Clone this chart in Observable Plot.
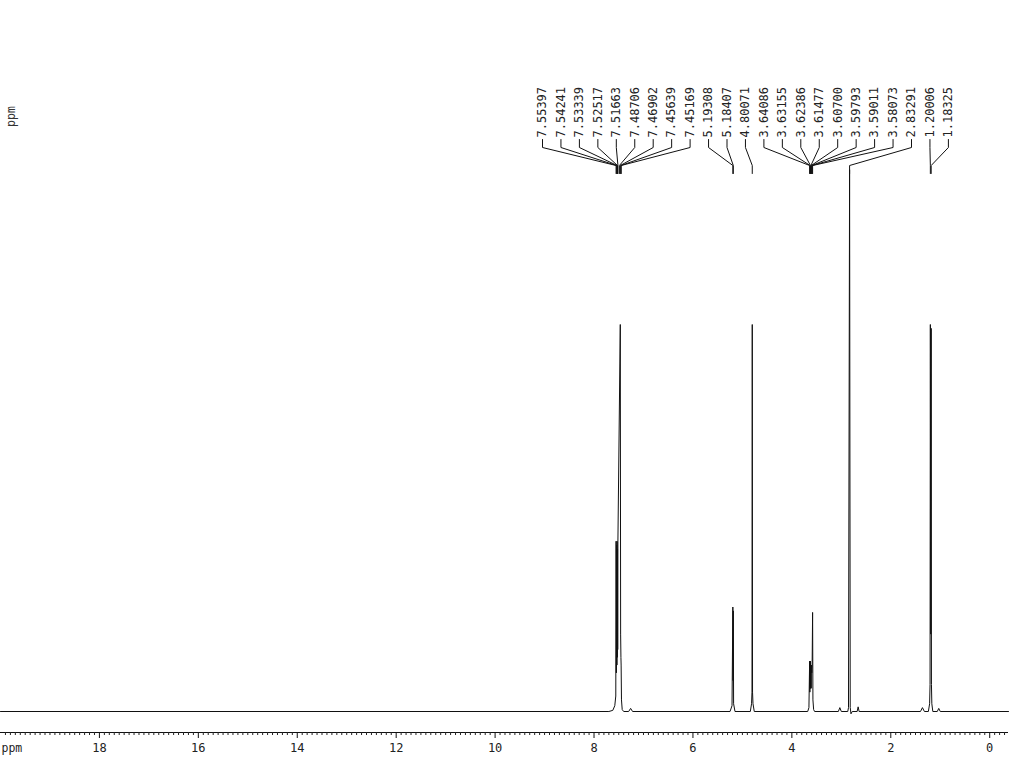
<!DOCTYPE html>
<html>
<head>
<meta charset="utf-8">
<script src="https://cdn.jsdelivr.net/npm/d3@7"></script>
<script src="https://cdn.jsdelivr.net/npm/@observablehq/plot@0.6"></script>
<style>
  html, body { margin: 0; padding: 0; background: #fff; overflow: hidden; }
  #chart svg { display: block; }
</style>
</head>
<body>
<div id="chart"></div>
<script>
// ---- data ----
// peak-pick labels (ppm), in label order left to right
const peakLabels = [7.55397, 7.54241, 7.53339, 7.52517, 7.51663, 7.48706, 7.46902, 7.45639, 7.45169,
  5.19308, 5.18407, 4.80071,
  3.64086, 3.63155, 3.62386, 3.61477, 3.60700, 3.59793, 3.59011, 3.58073,
  2.83291, 1.20006, 1.18325];

// spectrum trace: [ppm, relative intensity] (HDO peak at 4.80 = 100)
const spectrumPoints = [
  [20.0, 0], [7.70, 0], [7.62, 0.3], [7.58, 1.5], [7.56, 4],
  [7.554, 44], [7.548, 10], [7.542, 43], [7.537, 12], [7.533, 44], [7.529, 14],
  [7.525, 42], [7.521, 16], [7.517, 44], [7.469, 100], [7.462, 20], [7.456, 14],
  [7.452, 12], [7.445, 3], [7.43, 0.5], [7.40, 0], [7.30, 0], [7.26, 0.8], [7.22, 0],
  [5.25, 0], [5.21, 1.5], [5.193, 27], [5.189, 8], [5.184, 26], [5.178, 2], [5.15, 0],
  [4.84, 0], [4.815, 2], [4.806, 5], [4.8007, 100], [4.795, 5], [4.786, 2], [4.76, 0],
  [3.68, 0], [3.655, 1], [3.6409, 13], [3.636, 5], [3.6316, 13], [3.627, 6], [3.6239, 13],
  [3.619, 6], [3.6148, 12], [3.611, 6], [3.607, 12], [3.5979, 10], [3.5901, 12],
  [3.5807, 25.6], [3.574, 3], [3.56, 0.5], [3.54, 0],
  [3.06, 0], [3.03, 1], [3.00, 0],
  [2.87, 0], [2.855, 1], [2.8329, 140], [2.82, 1], [2.805, -0.6], [2.78, 0],
  [2.68, 0], [2.66, 1.2], [2.64, 0],
  [1.40, 0], [1.36, 1], [1.32, 0],
  [1.24, 0], [1.215, 2], [1.206, 7], [1.2001, 100], [1.1917, 20], [1.1833, 99],
  [1.178, 7], [1.17, 2], [1.15, 0],
  [1.06, 0], [1.03, 0.8], [1.00, 0], [-0.38, 0]
];

// axis tick values (ppm)
const majorTicks = [0, 2, 4, 6, 8, 10, 12, 14, 16, 18];
const minorTicks = d3.range(-3, 201).map(i => i / 10).filter(v => Math.abs(v / 2 - Math.round(v / 2)) > 1e-6);

// ---- layout ----
const W = 1024, H = 768;
const marginLeft = 0, marginRight = 16, marginTop = 0, marginBottom = 36;
const xDomain = [20, -0.38];
const baseY = 711;          // pixel row of the spectrum baseline
const k = 3.87;             // px per intensity unit
const frameBottom = H - marginBottom;
const yMin = -(frameBottom - baseY) / k;
const yMax = (baseY - marginTop) / k;
const yU = py => (baseY - py) / k;  // pixel row -> intensity units

const xs = d3.scaleLinear(xDomain, [marginLeft, W - marginRight]);
// labels spread evenly above the spectrum
const labelStart = 542, labelStep = 18.45;
const labelRows = peakLabels.map((p, i) => ({
  i, ppm: p, text: p.toFixed(5), lx: xs.invert(labelStart + i * labelStep)
}));
const leaders = labelRows.flatMap(d => [
  {z: d.i, x: d.lx, y: yU(139)},
  {z: d.i, x: d.lx, y: yU(147)},
  {z: d.i, x: d.ppm, y: yU(165)},
  {z: d.i, x: d.ppm, y: yU(173)}
]);

const mono = "DejaVu Sans Mono, monospace";

const chart = Plot.plot({
  width: W, height: H,
  marginLeft, marginRight, marginTop, marginBottom,
  style: {background: "#fff", overflow: "visible"},
  x: {domain: xDomain, axis: null},
  y: {domain: [yMin, yMax], axis: null},
  marks: [
    // x axis line
    Plot.ruleY([yMin], {stroke: "#111", strokeWidth: 1}),
    // minor ticks
    Plot.ruleX(minorTicks, {y1: yMin, y2: yMin - 3 / k, stroke: "#222", strokeWidth: 1}),
    // major ticks + labels
    Plot.axisX(majorTicks, {anchor: "bottom", tickSize: 6, tickPadding: 5, fontSize: 12,
      fontFamily: mono, label: null, stroke: "#111", fill: "#222"}),
    Plot.text(["ppm"], {frameAnchor: "bottom-left", dx: 1, dy: 11, textAnchor: "start",
      lineAnchor: "top", fontSize: 11.5, fontFamily: mono, fill: "#222"}),
    Plot.text(["ppm"], {frameAnchor: "top-left", dx: 11, dy: 116, rotate: -90,
      textAnchor: "middle", lineAnchor: "middle", fontSize: 11.5, fontFamily: mono, fill: "#333"}),
    // spectrum
    Plot.line(spectrumPoints, {x: d => d[0], y: d => d[1], stroke: "#111", strokeWidth: 1, curve: "linear"}),
    // peak-pick leaders and labels
    Plot.line(leaders, {x: "x", y: "y", z: "z", stroke: "#111", strokeWidth: 1}),
    Plot.text(labelRows, {x: "lx", y: yU(137), text: "text", rotate: -90, textAnchor: "start",
      lineAnchor: "middle", fontSize: 12, fontFamily: mono, fill: "#222"})
  ]
});
document.getElementById("chart").append(chart);
</script>
</body>
</html>
